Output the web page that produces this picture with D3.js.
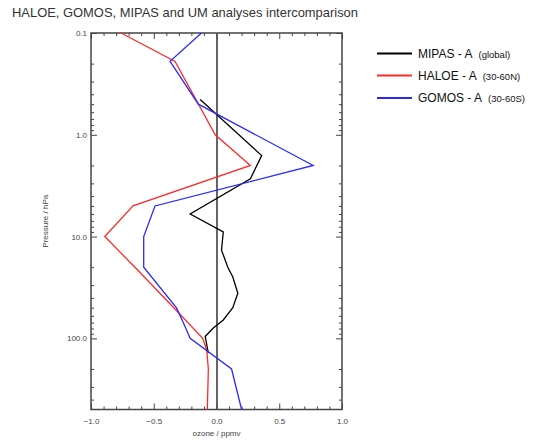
<!DOCTYPE html>
<html>
<head>
<meta charset="utf-8">
<script src="https://cdn.jsdelivr.net/npm/d3@7"></script>
<style>
body { margin: 0; background: #fff; }
svg { display: block; font-family: "Liberation Sans", Arial, sans-serif; }
</style>
</head>
<body>
<svg id="chart" width="533" height="443"></svg>
<script>
// ---- data ----
const mipasPressure = [0.45, 1.6, 2.7, 6, 9, 13.6, 20, 25, 36, 50, 66, 80, 96, 140];
const mipasOzone    = [-0.13, 0.36, 0.27, -0.21, 0.054, 0.04, 0.09, 0.13, 0.17, 0.13, 0.054, -0.03, -0.09, -0.065];

const haloePressure = [0.1, 0.19, 1.0, 2.0, 5.0, 10, 20, 50, 100, 130, 200, 500];
const haloeOzone    = [-0.76, -0.33, -0.01, 0.27, -0.665, -0.89, -0.65, -0.34, -0.11, -0.078, -0.065, -0.073];

const gomosPressure = [0.1, 0.19, 0.5, 2.0, 5.0, 10, 20, 50, 70, 100, 200, 500];
const gomosOzone    = [-0.12, -0.37, -0.145, 0.77, -0.49, -0.58, -0.58, -0.32, -0.265, -0.21, 0.12, 0.20];

const xMajorTicks = [-1.0, -0.5, 0.0, 0.5, 1.0];
const xMinorTicks = [-0.9,-0.8,-0.7,-0.6,-0.4,-0.3,-0.2,-0.1,0.1,0.2,0.3,0.4,0.6,0.7,0.8,0.9];
const yMajorTicks = [0.1, 1.0, 10.0, 100.0];
const yMinorTicks = [0.2,0.3,0.4,0.5,0.6,0.7,0.8,0.9,2,3,4,5,6,7,8,9,20,30,40,50,60,70,80,90,200,300,400];

const seriesNames  = ["MIPAS - A", "HALOE - A", "GOMOS - A"];
const seriesRegion = ["(global)", "(30-60N)", "(30-60S)"];
const seriesColors = ["#000000", "#ff2a2a", "#2a2aff"];

const titleText = "HALOE, GOMOS, MIPAS and UM analyses intercomparison";
const xLabel = "ozone / ppmv";
const yLabel = "Pressure / hPa";

// ---- layout ----
const svg = d3.select("#chart");
const L = 91, R = 342, T = 33, B = 409.5;

const x = d3.scaleLinear().domain([-1, 1]).range([L, R]);
const y = d3.scaleLog().domain([0.1, 500]).range([T, B]);

const axisColor = "#444";

// title
svg.append("text").attr("x", 12).attr("y", 17)
  .attr("font-size", 13).attr("fill", "#333")
  .attr("textLength", 346).attr("lengthAdjust", "spacingAndGlyphs")
  .text(titleText);

function styleAxis(g) {
  g.select(".domain").remove();
  g.selectAll(".tick line").attr("stroke", axisColor).attr("stroke-width", 1);
  g.selectAll(".tick text").attr("fill", "#444").attr("font-size", 8).attr("font-family", "Liberation Sans, Arial, sans-serif");
}

// bottom axis
svg.append("g").attr("transform", `translate(0,${B})`)
  .call(d3.axisBottom(x).tickValues(xMajorTicks).tickSize(-6).tickPadding(9).tickFormat(d3.format(".1f")))
  .call(styleAxis);
svg.append("g").attr("transform", `translate(0,${B})`)
  .call(d3.axisBottom(x).tickValues(xMinorTicks).tickSize(-3).tickFormat(""))
  .call(styleAxis);
// top axis
svg.append("g").attr("transform", `translate(0,${T})`)
  .call(d3.axisTop(x).tickValues(xMajorTicks).tickSize(-6).tickFormat(""))
  .call(styleAxis);
svg.append("g").attr("transform", `translate(0,${T})`)
  .call(d3.axisTop(x).tickValues(xMinorTicks).tickSize(-3).tickFormat(""))
  .call(styleAxis);
// left axis
svg.append("g").attr("transform", `translate(${L},0)`)
  .call(d3.axisLeft(y).tickValues(yMajorTicks).tickSize(-6).tickPadding(4).tickFormat(d3.format(".1f")))
  .call(styleAxis);
svg.append("g").attr("transform", `translate(${L},0)`)
  .call(d3.axisLeft(y).tickValues(yMinorTicks).tickSize(-3).tickFormat(""))
  .call(styleAxis);
// right axis
svg.append("g").attr("transform", `translate(${R},0)`)
  .call(d3.axisRight(y).tickValues(yMajorTicks).tickSize(-6).tickFormat(""))
  .call(styleAxis);
svg.append("g").attr("transform", `translate(${R},0)`)
  .call(d3.axisRight(y).tickValues(yMinorTicks).tickSize(-3).tickFormat(""))
  .call(styleAxis);

// frame
svg.append("rect").attr("x", L).attr("y", T).attr("width", R - L).attr("height", B - T)
  .attr("fill", "none").attr("stroke", axisColor).attr("stroke-width", 1.5);

// zero line
svg.append("line").attr("x1", x(0) + 0.5).attr("x2", x(0) + 0.5).attr("y1", T).attr("y2", B)
  .attr("stroke", "#555").attr("stroke-width", 1.8);

// series
const series = [
  { p: mipasPressure, v: mipasOzone },
  { p: haloePressure, v: haloeOzone },
  { p: gomosPressure, v: gomosOzone }
];
const line = d3.line().x(d => x(d[1])).y(d => y(d[0]));
series.forEach((s, i) => {
  const pts = s.p.map((p, j) => [p, s.v[j]]);
  svg.append("path").datum(pts).attr("d", line)
    .attr("fill", "none").attr("stroke", seriesColors[i]).attr("stroke-width", 1.3)
    .attr("stroke-linejoin", "miter");
});

// axis labels
svg.append("text").attr("x", x(0)).attr("y", 436).attr("text-anchor", "middle")
  .attr("font-size", 8).attr("fill", "#444").text(xLabel);
svg.append("text").attr("transform", `translate(48,${(T + B) / 2}) rotate(-90)`)
  .attr("text-anchor", "middle").attr("font-size", 8).attr("fill", "#444").text(yLabel);

// legend
const legY = [53.5, 75.5, 98];
seriesNames.forEach((n, i) => {
  svg.append("line").attr("x1", 377).attr("x2", 412).attr("y1", legY[i]).attr("y2", legY[i])
    .attr("stroke", seriesColors[i]).attr("stroke-width", 2);
  const t = svg.append("text").attr("x", 418).attr("y", legY[i] + 4).attr("fill", "#111");
  t.append("tspan").attr("font-size", 12).text(n);
  t.append("tspan").attr("font-size", 9.5).attr("dx", 6).text(seriesRegion[i]);
});
</script>
</body>
</html>
